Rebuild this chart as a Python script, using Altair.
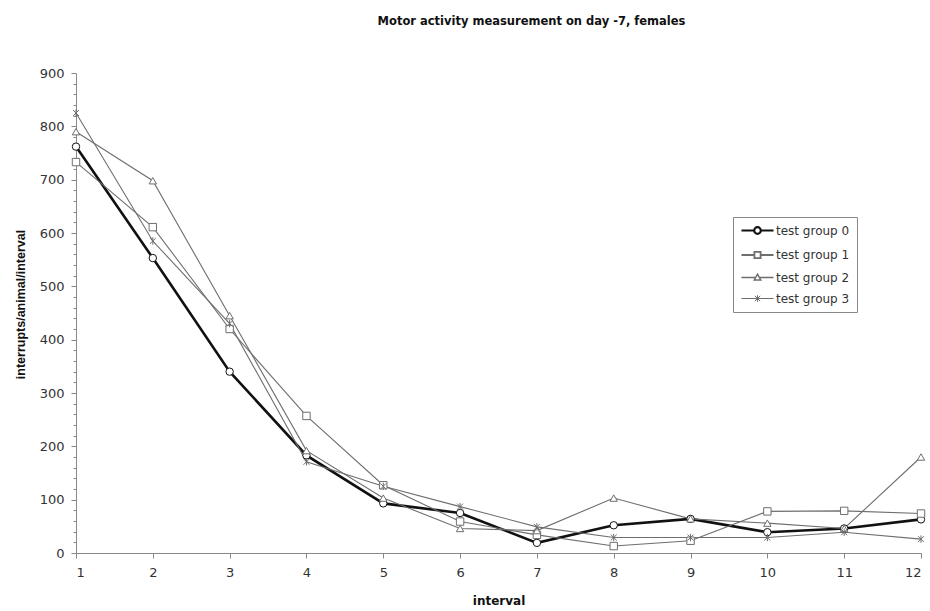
import altair as alt
import pandas as pd

intervals = list(range(1, 13))
groups = ["test group 0", "test group 1", "test group 2", "test group 3"]
g0 = [762, 553, 340, 183, 93, 75, 19, 52, 64, 39, 46, 63]
g1 = [733, 611, 420, 257, 127, 59, 34, 13, 23, 78, 79, 74]
g2 = [790, 698, 445, 192, 103, 46, 42, 103, 64, 56, 46, 180]
g3 = [825, 585, 430, 171, 125, 87, 49, 29, 29, 29, 39, 26]
y_ticks = list(range(0, 901, 20))

rows = []
for g, vals in zip(groups, [g0, g1, g2, g3]):
    for x, v in zip(intervals, vals):
        rows.append({"interval": x, "value": v, "group": g})
df = pd.DataFrame(rows)

FONT = "DejaVu Sans"
GRAY = "#6e6e6e"
ASTER = "M0,-1L0,1M-0.8,-0.8L0.8,0.8M-0.8,0.8L0.8,-0.8"
marker_shapes = ["circle", "square", "triangle-up", ASTER]
legend_shapes = [
    "M-3,0L-0.62,0M0.62,0L3,0M-0.62,0A0.62,0.62,0,1,0,0.62,0A0.62,0.62,0,1,0,-0.62,0Z",
    "M-3,0L-0.58,0M0.58,0L3,0M-0.58,-0.58L0.58,-0.58L0.58,0.58L-0.58,0.58Z",
    "M-3,0L-0.33,0M0.33,0L3,0M0,-0.62L0.62,0.48L-0.62,0.48Z",
    "M-3,0L3,0M0,-0.62L0,0.62M-0.5,-0.5L0.5,0.5M-0.5,0.5L0.5,-0.5",
]

x_enc = alt.X(
    "interval:Q",
    scale=alt.Scale(domain=[1, 12], nice=False),
    axis=alt.Axis(
        values=intervals, title="interval", titleFont=FONT, titleFontSize=12,
        titleFontWeight="bold", titleColor="#111", titlePadding=16,
        labelFont=FONT, labelFontSize=13, labelColor="#333", labelPadding=8,
        tickSize=5, tickColor="#888", domainColor="#888", grid=False,
    ),
)
y_enc = alt.Y(
    "value:Q",
    scale=alt.Scale(domain=[0, 900], nice=False),
    axis=alt.Axis(
        values=y_ticks,
        labelExpr="datum.value % 100 === 0 ? datum.label : ''",
        labelOverlap=False,
        tickSize={"condition": {"test": "datum.value % 100 === 0", "value": 5}, "value": 3},
        title="interrupts/animal/interval", titleFont="Liberation Sans", titleFontSize=12.5,
        titleFontWeight="bold", titleColor="#111", titlePadding=12, titleY=231,
        labelFont=FONT, labelFontSize=13, labelColor="#333", labelPadding=7,
        tickColor="#888", domainColor="#888", grid=False,
    ),
)

is0 = alt.datum.group == "test group 0"

lines = alt.Chart(df).mark_line().encode(
    x=x_enc,
    y=y_enc,
    detail="group:N",
    order="interval:Q",
    color=alt.when(is0).then(alt.value("#111")).otherwise(alt.value(GRAY)),
    strokeWidth=alt.when(is0).then(alt.value(2.6)).otherwise(alt.value(1.1)),
)

points = alt.Chart(df).mark_point(filled=False, fill="white", size=55, strokeWidth=1, opacity=1).encode(
    x=x_enc,
    y=y_enc,
    shape=alt.Shape("group:N", scale=alt.Scale(domain=groups, range=marker_shapes), legend=None),
    color=alt.when(is0).then(alt.value("#111")).otherwise(alt.value(GRAY)),
)

legend_layer = alt.Chart(df).transform_filter("false").mark_point(filled=False, opacity=1).encode(
    shape=alt.Shape(
        "group:N",
        scale=alt.Scale(domain=groups, range=legend_shapes),
        legend=alt.Legend(
            orient="none", legendX=657, legendY=144, title=None,
            strokeColor="#888", fillColor="white", padding=7,
            symbolSize=114, symbolOffset=11, labelOffset=12,
            labelFont=FONT, labelFontSize=12, labelColor="#333",
            rowPadding=8.5, symbolStrokeWidth=1,
        ),
    ),
    color=alt.Color("group:N", scale=alt.Scale(domain=groups, range=["#111", GRAY, GRAY, GRAY])),
    strokeWidth=alt.StrokeWidth("group:N", scale=alt.Scale(domain=groups, range=[2.2, 1, 1, 1])),
)

chart = (
    alt.layer(lines, points, legend_layer)
    .resolve_scale(shape="independent", color="independent", strokeWidth="independent")
    .properties(
        width=845,
        height=480,
        autosize=alt.AutoSizeParams(type="none"),
        padding={"left": 76, "top": 73, "right": 9, "bottom": 58},
        title=alt.TitleParams(
            "Motor activity measurement on day -7, females",
            font=FONT, fontSize=11.5, fontWeight="bold", color="#111",
            anchor="middle", dx=33, offset=40,
        ),
        background="white",
    )
    .configure_view(stroke=None)
)

chart.save("out.html", embed_options={"renderer": "svg", "actions": False})
